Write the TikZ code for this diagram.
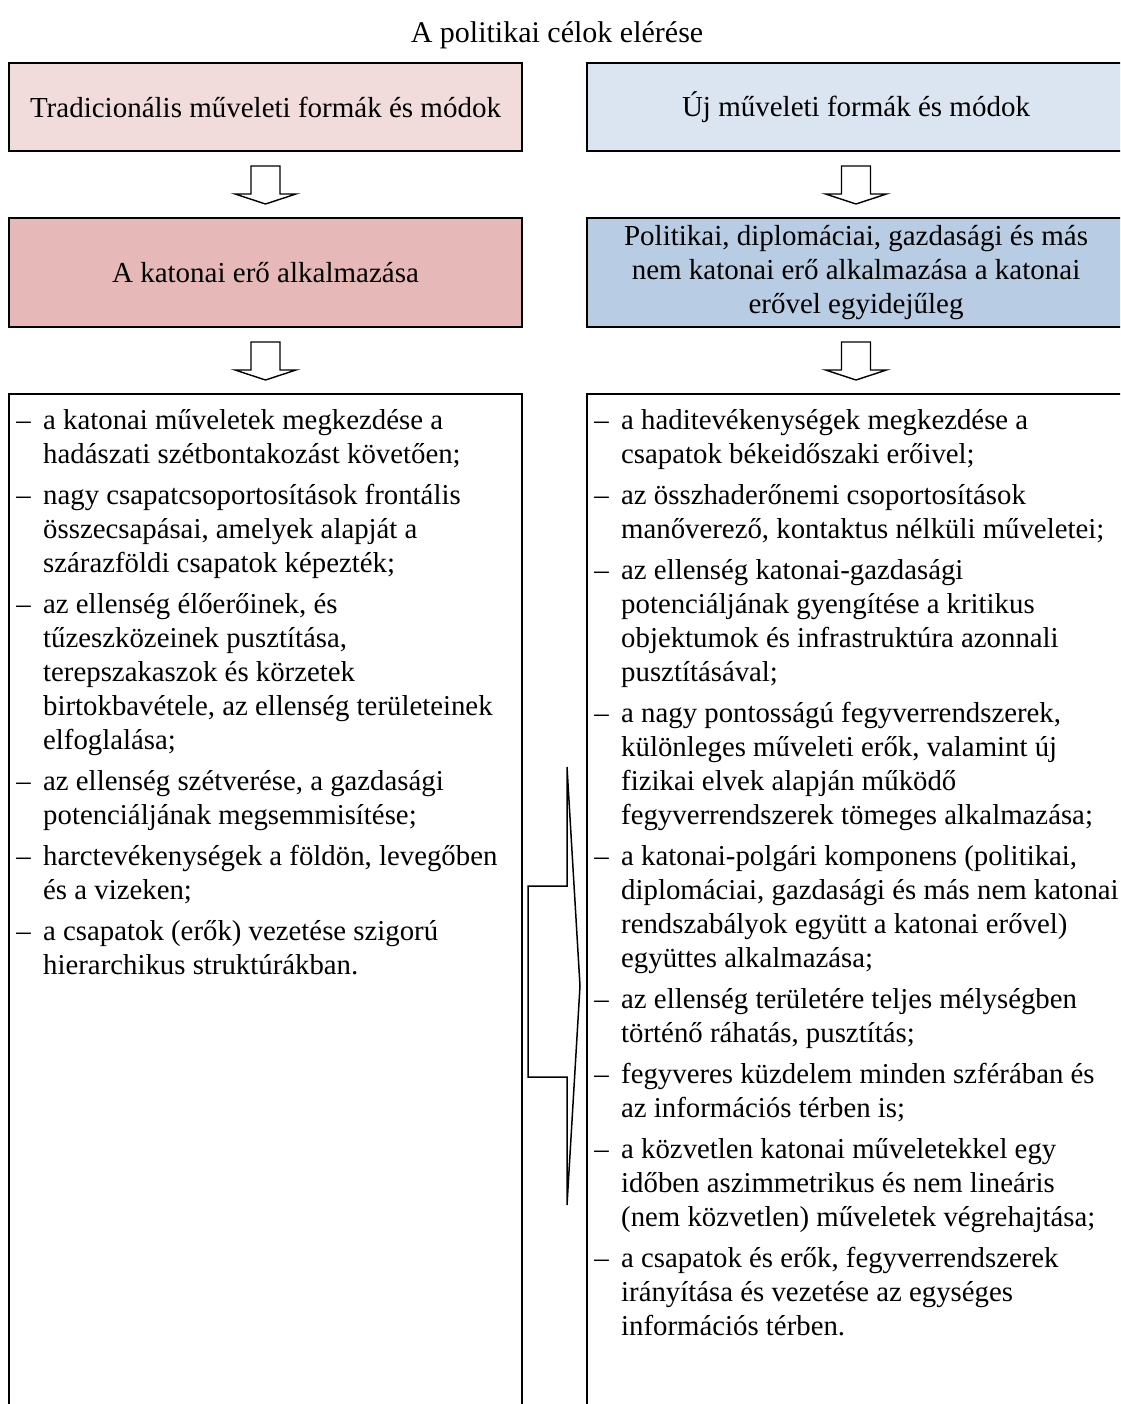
\documentclass[tikz,border=0pt]{standalone}
\usepackage{fontspec}
\setmainfont{Liberation Serif}
\usetikzlibrary{calc}
\definecolor{pinkA}{HTML}{F2DCDB}
\definecolor{pinkB}{HTML}{E6B9B8}
\definecolor{blueA}{HTML}{DBE5F1}
\definecolor{blueB}{HTML}{B8CCE4}
\newcommand{\dashitem}{\leavevmode\llap{–\hspace{12.4pt}}}
\begin{document}
\begin{tikzpicture}[x=1pt,y=-1pt,
  box/.style={draw=black, line width=2pt, rectangle, inner sep=0pt, align=center,
    font=\fontsize{29}{34}\selectfont},
  barrow/.style={draw=black, fill=white, line width=1.4pt, line join=miter},
  chev/.style={draw=black, line width=1.5pt, line join=miter},
  listtext/.style={inner sep=0pt, anchor=base west, font=\fontsize{28.8}{34}\selectfont}]
\path[use as bounding box] (0,0) rectangle (1120,1404);
\clip (0,0) rectangle (1120,1404);
\fill[white] (0,0) rectangle (1120,1404);

\node[anchor=base, inner sep=0pt, font=\fontsize{30}{34}\selectfont] (title) at (557,43) {A politikai célok elérése};

\node[box, fill=pinkA, minimum width=513, minimum height=88] (L1) at (265.5,107) {Tradicionális műveleti formák és módok};
\node[box, fill=pinkB, minimum width=513, minimum height=109] (L2) at (265.5,272.5) {A katonai erő alkalmazása};
\node[box, fill=blueA, minimum width=538, minimum height=88] (R1) at (856,107) {Új műveleti formák és módok};
\node[box, fill=blueB, minimum width=538, minimum height=109] (R2) at (856,272.5) {Politikai, diplomáciai, gazdasági és más\\nem katonai erő alkalmazása a katonai\\erővel egyidejűleg};

\node[box, minimum width=513, minimum height=1046] (L3) at (265.5,917) {};
\node[box, minimum width=538, minimum height=1046] (R3) at (856,917) {};

\foreach \n in {L1,L2,R1,R2}{
  \draw[barrow] ($(\n.south)+(-14.5,14)$) -- ++(0,28) -- ++(-16,0)
    -- ($(\n.south)+(0,52)$) -- ($(\n.south)+(30.5,42)$) -- ++(-16,0)
    -- ($(\n.south)+(14.5,14)$) -- cycle;
}

\draw[chev] ($(L3.north east)+(5,493)$) -- ($(L3.north east)+(44,493)$)
  -- ($(L3.north east)+(44,374)$) -- ($(L3.north east)+(57,593)$)
  -- ($(L3.north east)+(44,812)$) -- ($(L3.north east)+(44,684)$)
  -- ($(L3.north east)+(5,684)$) -- cycle;

\node[listtext] (LL) at (43,429) {\parbox[t]{560pt}{\raggedright
\dashitem a katonai műveletek megkezdése a\\
hadászati szétbontakozást követően;\\[7pt]
\dashitem nagy csapatcsoportosítások frontális\\
összecsapásai, amelyek alapját a\\
szárazföldi csapatok képezték;\\[7pt]
\dashitem az ellenség élőerőinek, és\\
tűzeszközeinek pusztítása,\\
terepszakaszok és körzetek\\
birtokbavétele, az ellenség területeinek\\
elfoglalása;\\[7pt]
\dashitem az ellenség szétverése, a gazdasági\\
potenciáljának megsemmisítése;\\[7pt]
\dashitem harctevékenységek a földön, levegőben\\
és a vizeken;\\[7pt]
\dashitem a csapatok (erők) vezetése szigorú\\
hierarchikus struktúrákban.}};

\node[listtext] (RL) at (621,429) {\parbox[t]{560pt}{\raggedright
\dashitem a haditevékenységek megkezdése a\\
csapatok békeidőszaki erőivel;\\[7pt]
\dashitem az összhaderőnemi csoportosítások\\
manőverező, kontaktus nélküli műveletei;\\[7pt]
\dashitem az ellenség katonai-gazdasági\\
potenciáljának gyengítése a kritikus\\
objektumok és infrastruktúra azonnali\\
pusztításával;\\[7pt]
\dashitem a nagy pontosságú fegyverrendszerek,\\
különleges műveleti erők, valamint új\\
fizikai elvek alapján működő\\
fegyverrendszerek tömeges alkalmazása;\\[7pt]
\dashitem a katonai-polgári komponens (politikai,\\
diplomáciai, gazdasági és más nem katonai\\
rendszabályok együtt a katonai erővel)\\
együttes alkalmazása;\\[7pt]
\dashitem az ellenség területére teljes mélységben\\
történő ráhatás, pusztítás;\\[7pt]
\dashitem fegyveres küzdelem minden szférában és\\
az információs térben is;\\[7pt]
\dashitem a közvetlen katonai műveletekkel egy\\
időben aszimmetrikus és nem lineáris\\
(nem közvetlen) műveletek végrehajtása;\\[7pt]
\dashitem a csapatok és erők, fegyverrendszerek\\
irányítása és vezetése az egységes\\
információs térben.}};
\end{tikzpicture}
\end{document}
